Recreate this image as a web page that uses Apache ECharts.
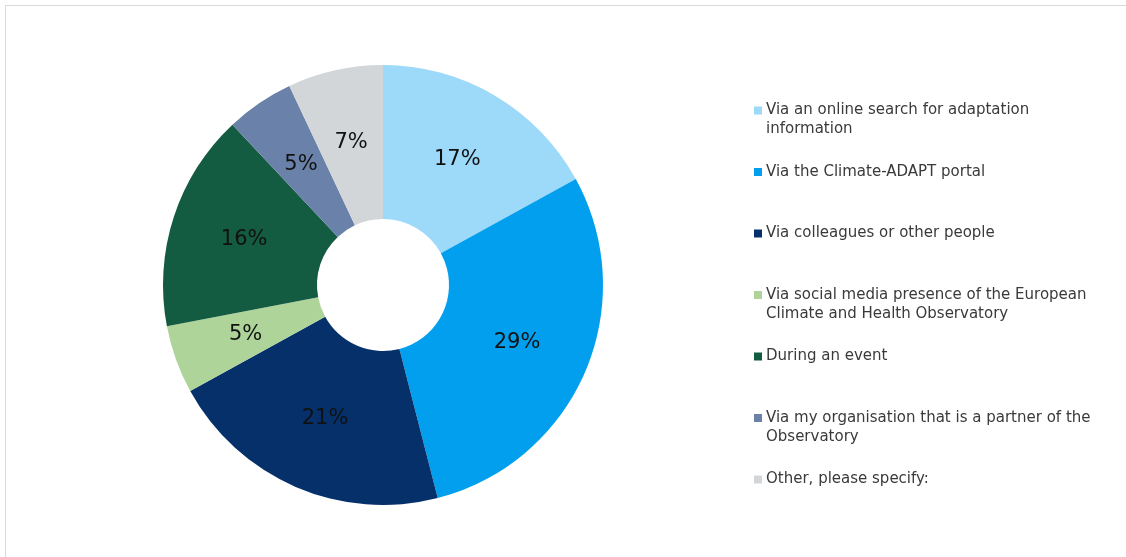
<!DOCTYPE html>
<html>
<head>
<meta charset="utf-8">
<script src="https://cdn.jsdelivr.net/npm/echarts@6/dist/echarts.min.js"></script>
<style>
  html, body { margin: 0; padding: 0; background: #fff; }
  #chart { width: 1126px; height: 557px; }
</style>
</head>
<body>
<div id="chart"></div>
<script>
// How respondents found out about the Observatory (share of answers, %)
const categories = [
  'Via an online search for adaptation information',
  'Via the Climate-ADAPT portal',
  'Via colleagues or other people',
  'Via social media presence of the European Climate and Health Observatory',
  'During an event',
  'Via my organisation that is a partner of the Observatory',
  'Other, please specify:'
];
// Legend text broken into lines as displayed
const legendLines = [
  ['Via an online search for adaptation', 'information'],
  ['Via the Climate-ADAPT portal'],
  ['Via colleagues or other people'],
  ['Via social media presence of the European', 'Climate and Health Observatory'],
  ['During an event'],
  ['Via my organisation that is a partner of the', 'Observatory'],
  ['Other, please specify:']
];
const shares = [17, 29, 21, 5, 16, 5, 7];
const colors = ['#9DD9F8', '#029FEE', '#06306A', '#AED49A', '#135B41', '#6A82AA', '#D3D6D9'];

// Every legend entry takes three lines; the marker sits on the middle one,
// so the first text line lines up with the marker.
const legendText = {};
categories.forEach((c, i) => {
  const lines = legendLines[i];
  legendText[c] = lines.length === 1 ? '\n' + lines[0] + '\n ' : '\n' + lines.join('\n');
});

const chart = echarts.init(document.getElementById('chart'), null, { renderer: 'canvas' });
chart.setOption({
  animation: false,
  backgroundColor: '#ffffff',
  color: colors,
  graphic: [{
    type: 'rect',
    shape: { x: 5.5, y: 5.5, width: 1200, height: 600 },
    style: { fill: 'none', stroke: '#D9D9D9', lineWidth: 1 },
    silent: true
  }],
  legend: {
    orient: 'vertical',
    left: 754,
    top: 82,
    itemWidth: 8,
    itemHeight: 8,
    itemGap: 4.5,
    icon: 'rect',
    padding: 0,
    textStyle: {
      fontFamily: 'DejaVu Sans',
      fontSize: 15,
      color: '#3A3A3A',
      lineHeight: 19,
      padding: [0, 0, 0, -1]
    },
    formatter: name => legendText[name],
    data: categories
  },
  series: [{
    type: 'pie',
    center: [383, 285],
    radius: [66, 220],
    startAngle: 90,
    clockwise: true,
    avoidLabelOverlap: false,
    label: {
      show: true,
      position: 'inside',
      formatter: p => p.value + '%',
      fontFamily: 'DejaVu Sans',
      fontSize: 21,
      color: '#111111'
    },
    labelLine: { show: false },
    itemStyle: { borderColor: '#ffffff', borderWidth: 0 },
    emphasis: { disabled: true },
    data: categories.map((c, i) => ({ name: c, value: shares[i] }))
  }]
});
</script>
</body>
</html>
